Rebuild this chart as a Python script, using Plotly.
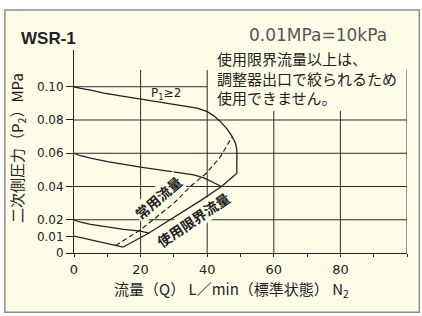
import plotly.graph_objects as go

# ---- data ----
q_p010 = [0, 2, 5, 9, 14, 20, 29, 37, 40, 42, 44, 46, 47.5, 48.5, 48.9, 48.9]
p_p010 = [0.100, 0.0990, 0.0980, 0.0962, 0.0945, 0.0927, 0.0897, 0.0871, 0.0850, 0.0825, 0.0790, 0.0745, 0.0700, 0.0660, 0.0620, 0.0480]

q_p006 = [0, 2, 5, 10, 20, 30, 36, 39, 41, 43, 44.3]
p_p006 = [0.060, 0.0585, 0.0570, 0.0550, 0.0516, 0.0490, 0.0470, 0.0452, 0.0432, 0.0412, 0.0400]

q_p002 = [0, 2, 5, 10, 15, 20, 22.5]
p_p002 = [0.020, 0.0185, 0.0172, 0.0155, 0.0142, 0.0131, 0.0120]

q_p001 = [0, 3, 6, 9, 12, 13.5, 14.8]
p_p001 = [0.0102, 0.0088, 0.0076, 0.0062, 0.0047, 0.0040, 0.0036]

q_limit = [48.9, 44.3, 38, 30, 22.5, 14.8]
p_limit = [0.0480, 0.0400, 0.0315, 0.0215, 0.0120, 0.0036]

q_normal = [12.5, 16, 20, 25, 30, 35, 38, 40, 44, 47.5]
p_normal = [0.0045, 0.0090, 0.0140, 0.0220, 0.0300, 0.0400, 0.0450, 0.0485, 0.0580, 0.0700]

x_ticks = [0, 20, 40, 60, 80]
x_tick_labels = ["0", "20", "40", "60", "80"]
x_minor_ticks = [10, 30, 50, 70, 90, 100]
y_ticks = [0, 0.01, 0.02, 0.04, 0.06, 0.08, 0.10]
y_tick_labels = ["0", "0.01", "0.02", "0.04", "0.06", "0.08", "0.10"]

title_text = "<b>WSR-1</b>"
unit_note = "0.01MPa=10kPa"
note_text = "使用限界流量以上は、<br>調整器出口で絞られるため<br>使用できません。"
label_normal = "常用流量"
label_limit = "使用限界流量"
label_p1 = "P<sub>1</sub>≥2"
x_title = "流量（Q） L／min（標準状態） N<sub>2</sub>"
y_title = "二次側圧力（P<sub>2</sub>）MPa"

# ---- style ----
CREAM = "#fffde8"
INK = "#222222"
JP = "Noto Sans CJK JP"
LAT = "DejaVu Sans"

fig = go.Figure()
solid = dict(color=INK, width=1.3)
for qq, pp in [(q_p010, p_p010), (q_p006, p_p006), (q_p002, p_p002),
               (q_p001, p_p001), (q_limit, p_limit)]:
    fig.add_trace(go.Scatter(x=qq, y=pp, mode="lines", line=solid,
                             hoverinfo="skip", showlegend=False))
fig.add_trace(go.Scatter(x=q_normal, y=p_normal, mode="lines",
                         line=dict(color=INK, width=1.2, dash="5px,3px"),
                         hoverinfo="skip", showlegend=False))

shapes = []
# outer frame
shapes.append(dict(type="rect", xref="paper", yref="paper",
                   x0=-0.2074, x1=1.037, y0=-0.2924, y1=1.1966,
                   fillcolor=CREAM, line=dict(color="#8c8c8c", width=1.5),
                   layer="below"))
grid = dict(color="#2a2a2a", width=1)
for yv in [0.02, 0.04, 0.06, 0.08]:
    shapes.append(dict(type="line", xref="x", yref="y", x0=0, x1=100, y0=yv, y1=yv, line=grid, layer="below"))
shapes.append(dict(type="line", xref="x", yref="y", x0=0, x1=40, y0=0.10, y1=0.10, line=grid, layer="below"))
for xv, top in [(20, 0.1101), (40, 0.1101), (60, 0.0855), (80, 0.0855), (100, 0.1101)]:
    shapes.append(dict(type="line", xref="x", yref="y", x0=xv, x1=xv, y0=0, y1=top, line=grid, layer="below"))

annotations = [
    dict(text=title_text, xref="paper", yref="paper", x=-0.165, y=1.059,
         xanchor="left", yanchor="middle", showarrow=False,
         font=dict(family="Liberation Sans", size=17, color=INK)),
    dict(text=unit_note, xref="paper", yref="paper", x=0.733, y=1.074,
         xanchor="center", yanchor="middle", showarrow=False,
         font=dict(family=LAT, size=17, color="#555555")),
    dict(text=note_text, xref="x", yref="y", x=42.4, y=0.1053,
         xanchor="left", yanchor="middle", align="left", showarrow=False,
         font=dict(family=JP, size=15, color=INK)),
    dict(text="<b>" + label_normal + "</b>", xref="x", yref="y", x=25.1, y=0.0333,
         textangle=-41, showarrow=False, bgcolor=CREAM, borderpad=0,
         font=dict(family=JP, size=14, color=INK)),
    dict(text="<b>" + label_limit + "</b>", xref="x", yref="y", x=35.6, y=0.0201,
         textangle=-34, showarrow=False, bgcolor=CREAM, borderpad=0,
         font=dict(family=JP, size=14, color=INK)),
    dict(text=label_p1, xref="x", yref="y", x=27.6, y=0.0957,
         showarrow=False, font=dict(family=LAT, size=12, color=INK)),
    dict(text=x_title, xref="paper", yref="paper", x=0.473, y=-0.179,
         xanchor="center", yanchor="middle", showarrow=False,
         font=dict(family=JP, size=15, color=INK)),
    dict(text=y_title, xref="paper", yref="paper", x=-0.168, y=0.518,
         xanchor="center", yanchor="middle", textangle=-90, showarrow=False,
         font=dict(family=JP, size=15, color=INK)),
]

fig.update_layout(
    width=422, height=316,
    margin=dict(l=74, r=15.3, t=50, b=62.5),
    paper_bgcolor="white", plot_bgcolor="rgba(0,0,0,0)",
    shapes=shapes, annotations=annotations, showlegend=False,
    xaxis=dict(range=[0, 100], tickvals=x_ticks, ticktext=x_tick_labels,
               showgrid=False, zeroline=False, showline=True, linecolor=INK, linewidth=1,
               ticks="outside", ticklen=3, tickcolor=INK, ticklabelstandoff=1,
               minor=dict(tickvals=x_minor_ticks, ticks="outside", ticklen=3, tickcolor=INK, showgrid=False),
               tickfont=dict(family=LAT, size=13, color=INK), fixedrange=True),
    yaxis=dict(range=[0, 0.1221], tickvals=y_ticks, ticktext=y_tick_labels,
               showgrid=False, zeroline=False, showline=True, linecolor=INK, linewidth=1,
               ticks="outside", ticklen=7, tickcolor=INK,
               tickfont=dict(family=LAT, size=12, color=INK), fixedrange=True),
)

fig.write_html("out.html", config={"displayModeBar": False},
               post_script="document.body.style.margin='0';document.body.style.overflow='hidden';")
